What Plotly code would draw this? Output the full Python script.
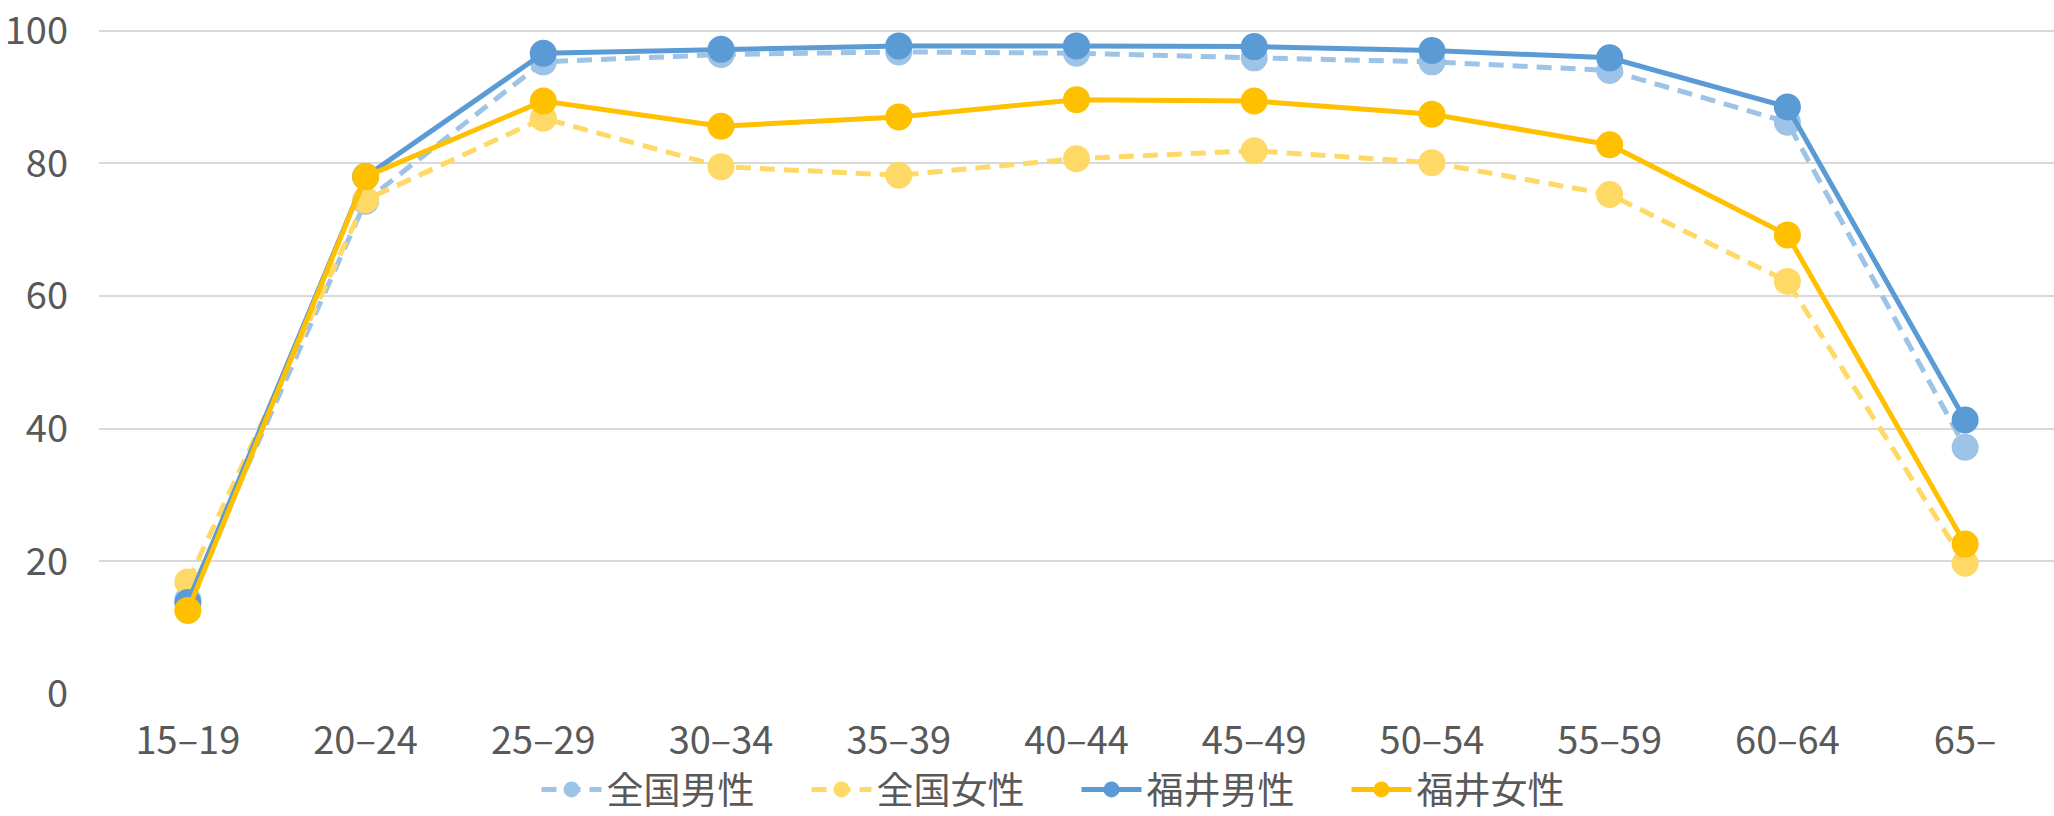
import plotly.graph_objects as go

categories = ["15–19", "20–24", "25–29", "30–34", "35–39", "40–44", "45–49", "50–54", "55–59", "60–64", "65–"]

national_male = [14.2, 74.3, 95.3, 96.4, 96.8, 96.6, 95.9, 95.3, 94.0, 86.2, 37.2]
national_female = [16.9, 74.5, 86.8, 79.5, 78.2, 80.7, 81.9, 80.1, 75.3, 62.2, 19.7]
fukui_male = [13.8, 78.0, 96.6, 97.2, 97.7, 97.7, 97.6, 97.0, 95.9, 88.5, 41.3]
fukui_female = [12.6, 78.0, 89.4, 85.6, 87.0, 89.6, 89.4, 87.4, 82.8, 69.2, 22.6]

y_ticks = [0, 20, 40, 60, 80, 100]

series = [
    ("全国男性", national_male, "#9DC3E6", "15px,9px"),
    ("全国女性", national_female, "#FFD966", "15px,9px"),
    ("福井男性", fukui_male, "#5B9BD5", "solid"),
    ("福井女性", fukui_female, "#FFC000", "solid"),
]

FONT = "Liberation Sans Narrow, Noto Sans CJK JP, sans-serif"
TEXT = "#595959"

fig = go.Figure()
for name, vals, color, dash in series:
    fig.add_trace(go.Scatter(
        x=categories, y=vals, name=name, mode="lines+markers",
        line=dict(color=color, width=5, dash=dash),
        marker=dict(color=color, size=27, line=dict(width=0)),
    ))

fig.update_layout(
    width=2054, height=816,
    margin=dict(l=99, r=0, t=29, b=122, autoexpand=False),
    paper_bgcolor="white", plot_bgcolor="white",
    font=dict(family=FONT, color=TEXT, size=38),
    showlegend=True,
    legend=dict(
        orientation="h", x=0.5, xanchor="center",
        yref="container", y=0.032, yanchor="middle",
        font=dict(family="Noto Sans CJK JP", size=37, color=TEXT),
        itemwidth=60, entrywidth=195, tracegroupgap=0,
    ),
    xaxis=dict(
        type="category", range=[-0.5, 10.5], showgrid=False, showline=False,
        zeroline=False, ticks="", ticklabelstandoff=21,
        tickfont=dict(family=FONT, size=38, color=TEXT),
    ),
    yaxis=dict(
        range=[0, 100.25], tickvals=y_ticks, showgrid=True, gridcolor="#D9D9D9",
        gridwidth=2, zeroline=False, showline=False, ticks="",
        ticklabelstandoff=30, ticklabeloverflow="allow",
        tickfont=dict(family=FONT, size=38, color=TEXT),
    ),
)

fig.write_html("out.html", config={"displayModeBar": False},
               post_script="document.body.style.margin='0';")
